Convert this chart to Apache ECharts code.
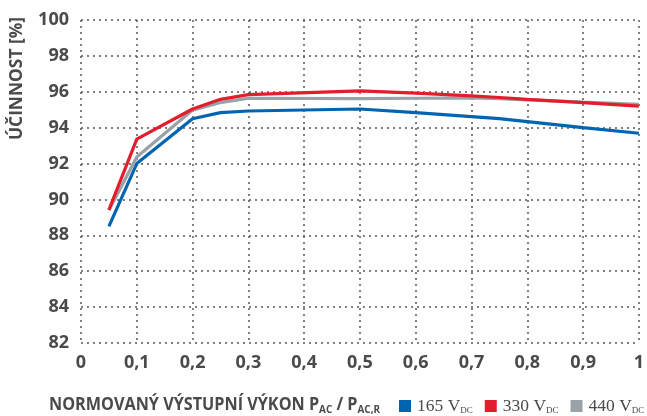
<!DOCTYPE html>
<html><head><meta charset="utf-8">
<script src="https://cdn.jsdelivr.net/npm/echarts@6/dist/echarts.min.js"></script>
<style>html,body{margin:0;padding:0;background:#fff}#c{width:647px;height:416px}</style>
</head><body><div id="c"></div>
<script>
const xValues = [0.05, 0.1, 0.2, 0.25, 0.3, 0.5, 0.6, 0.7, 0.75, 0.8, 0.9, 1.0];
const v165 = [88.5, 92.0, 94.5, 94.84, 94.93, 95.04, 94.84, 94.62, 94.5, 94.34, 94.0, 93.69];
const v330 = [89.42, 93.36, 95.04, 95.58, 95.84, 96.05, 95.92, 95.77, 95.68, 95.58, 95.4, 95.2];
const v440 = [89.4, 92.36, 94.98, 95.4, 95.64, 95.62, 95.64, 95.66, 95.62, 95.55, 95.42, 95.3];
const seriesNames = ['165', '330', '440'];
const yTicks = {min: 82, max: 100, interval: 2};
const xTitleParts = ['NORMOVANÝ VÝSTUPNÍ VÝKON P', 'AC', ' / P', 'AC,R'];
const yTitle = 'ÚČINNOST [%]';

const FONT = '"Open Sans",Roboto,sans-serif';
const TXT = '#4a4a4a';
const colors = ['#0065b1', '#e31e2c', '#99a2a8'];
const pair = (vals) => xValues.map((x, i) => [x, vals[i]]);

const ctx = document.createElement('canvas').getContext('2d');
function tw(text, size) { ctx.font = 'bold ' + size + 'px ' + FONT; return ctx.measureText(text).width; }
const xTitleW = tw(xTitleParts[0], 18) + tw(xTitleParts[1], 11) + tw(xTitleParts[2], 18) + tw(xTitleParts[3], 11);
const xTitleScale = 331 / xTitleW;
const yTitleScale = 123 / tw(yTitle, 17);

const chart = echarts.init(document.getElementById('c'));
chart.setOption({
  animation: false,
  grid: {left: 81, right: 7, top: 20, bottom: 73},
  xAxis: {
    type: 'value', min: 0, max: 1, interval: 0.1,
    axisLine: {show: false}, axisTick: {show: false},
    splitLine: {show: true, lineStyle: {type: [2, 4], color: '#555', width: 1.5}},
    axisLabel: {margin: 11, color: TXT, fontFamily: FONT, fontWeight: 'bold', fontSize: 18,
      formatter: v => (v === 0 ? '0' : v === 1 ? '1' : v.toFixed(1).replace('.', ','))}
  },
  yAxis: {
    type: 'value', min: yTicks.min, max: yTicks.max, interval: yTicks.interval,
    axisLine: {show: false}, axisTick: {show: false},
    splitLine: {show: true, lineStyle: {type: [2, 4], color: '#555', width: 1.5}},
    axisLabel: {margin: 12, color: TXT, fontFamily: FONT, fontWeight: 'bold', fontSize: 18}
  },
  legend: {
    left: 399, top: 397, width: 300, itemWidth: 12, itemHeight: 12, itemGap: 12, padding: 0,
    icon: 'rect',
    data: seriesNames.map(n => n + ' V'),
    formatter: n => '{a|' + n + '}{s|DC}',
    textStyle: {padding: [0, 0, 0, 1], rich: {
      a: {fontFamily: '"Liberation Serif",serif', fontSize: 17.5, color: TXT},
      s: {fontFamily: '"Liberation Serif",serif', fontSize: 9, color: TXT, padding: [9, 0, 0, 0]}
    }}
  },
  graphic: [
    {type: 'text', x: 49, y: 395, scaleX: xTitleScale,
      style: {text: '{a|' + xTitleParts[0] + '}{s|' + xTitleParts[1] + '}{a|' + xTitleParts[2] + '}{s|' + xTitleParts[3] + '}', rich: {
        a: {fontFamily: FONT, fontWeight: 'bold', fontSize: 18, fill: TXT},
        s: {fontFamily: FONT, fontWeight: 'bold', fontSize: 11, fill: TXT, padding: [9, 0, 0, 0]}
      }}},
    {type: 'text', x: 9, y: 140, rotation: Math.PI / 2, scaleX: yTitleScale,
      style: {text: yTitle, fontFamily: FONT, fontWeight: 'bold', fontSize: 17, fill: TXT}}
  ],
  series: [
    {name: '165 V', type: 'line', data: pair(v165), color: colors[0], symbol: 'none', lineStyle: {width: 3.2}},
    {name: '440 V', type: 'line', data: pair(v440), color: colors[2], symbol: 'none', lineStyle: {width: 3.2}},
    {name: '330 V', type: 'line', data: pair(v330), color: colors[1], symbol: 'none', lineStyle: {width: 3.2}}
  ]
});
</script></body></html>
